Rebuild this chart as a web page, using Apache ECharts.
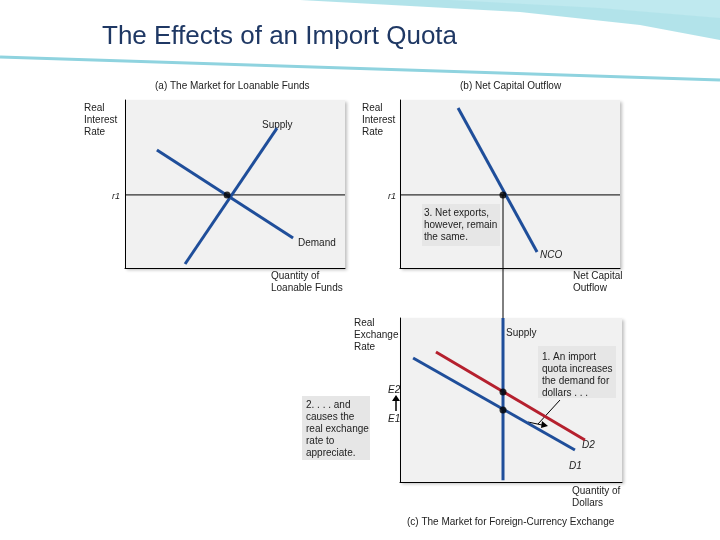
<!DOCTYPE html>
<html><head><meta charset="utf-8">
<script src="https://cdn.jsdelivr.net/npm/echarts@6/dist/echarts.min.js"></script>
<style>html,body{margin:0;padding:0;background:#fff}#c{width:720px;height:540px}</style>
</head><body><div id="c"></div>
<script>
// panel (a) data, unit coords 0-10
const supplyA = [[2.73,0.24],[6.91,8.33]];
const demandA = [[1.45,7.02],[7.64,1.79]];
const r1 = 4.35;
const eqA = [[4.64,4.35]];
// panel (b)
const nco = [[2.64,9.52],[6.23,0.95]];
const eqB = [[4.68,4.35]];
// panel (c)
const supplyC = [[4.64,0.1],[4.64,10]];
const d1 = [[0.59,7.56],[7.88,1.95]];
const d2 = [[1.62,7.93],[8.33,2.56]];
const eqC = [[4.64,5.49],[4.64,4.39]];

const chart = echarts.init(document.getElementById('c'));
const F = 'Liberation Sans, Arial, sans-serif';
const grids = [
  {left:125,top:100,width:220,height:168},
  {left:400,top:100,width:220,height:168},
  {left:400,top:318,width:222,height:164}
].map(g=>Object.assign(g,{show:true,backgroundColor:'#f1f1f1',borderWidth:0,shadowColor:'rgba(0,0,0,0.25)',shadowBlur:3,shadowOffsetX:2,shadowOffsetY:2}));
const ax = i=>({gridIndex:i,type:'value',min:0,max:10,axisLine:{show:true,lineStyle:{color:'#000',width:1}},axisTick:{show:false},axisLabel:{show:false},splitLine:{show:false}});
const line = (i,data,color,w)=>({type:'line',xAxisIndex:i,yAxisIndex:i,data,symbol:'none',lineStyle:{color,width:w||3},silent:true});
const dots = (i,data)=>({type:'scatter',xAxisIndex:i,yAxisIndex:i,data,symbolSize:7,itemStyle:{color:'#000'},z:5});
const t = (x,y,text,o)=>Object.assign({type:'text',left:x,top:y,style:Object.assign({text,font:'10px '+F,fill:'#222'},o||{})});
const blue='#1f4e9a', red='#b5202e';
chart.setOption({
  animation:false,
  grid:grids,
  xAxis:[ax(0),ax(1),ax(2)],
  yAxis:[ax(0),ax(1),ax(2)],
  series:[
    line(0,[[0,r1],[10,r1]],'#000',1),
    line(0,supplyA,blue), line(0,demandA,blue), dots(0,eqA),
    line(1,[[0,r1],[10,r1]],'#000',1),
    line(1,nco,blue), dots(1,eqB),
    line(2,d1,blue), line(2,d2,red), line(2,supplyC,blue), dots(2,eqC)
  ],
  graphic:[
    {type:'polygon',shape:{points:[[300,0],[720,0],[720,40],[640,25],[520,12]]},style:{fill:'#7fd0dc',opacity:0.6}},
    {type:'polygon',shape:{points:[[450,0],[720,0],[720,18],[600,8]]},style:{fill:'#bfe9ef'}},
    {type:'line',shape:{x1:0,y1:57,x2:720,y2:80},style:{stroke:'#8fd3df',lineWidth:3}},
    t(102,24,'The Effects of an Import Quota',{font:'26px '+F,fill:'#1f3864'}),
    t(155,81,'(a) The Market for Loanable Funds'),
    t(460,81,'(b) Net Capital Outflow'),
    t(84,102,'Real\nInterest\nRate',{align:'center',x:19,lineHeight:12}),
    t(362,102,'Real\nInterest\nRate',{align:'center',x:19,lineHeight:12}),
    t(262,120,'Supply'),
    t(298,238,'Demand'),
    t(112,192,'r1',{font:'italic 9px '+F}),
    t(388,192,'r1',{font:'italic 9px '+F}),
    t(540,250,'NCO',{font:'italic 10px '+F}),
    t(271,270,'Quantity of\nLoanable Funds',{lineHeight:12,align:'right',x:75}),
    t(573,270,'Net Capital\nOutflow',{lineHeight:12,align:'right',x:52}),
    {type:'rect',shape:{x:422,y:204,width:78,height:42},style:{fill:'#e6e6e6'}},
    t(424,207,'3. Net exports,\nhowever, remain\nthe same.',{lineHeight:12}),
    {type:'line',shape:{x1:503,y1:195,x2:503,y2:318},style:{stroke:'#000',lineWidth:1}},
    t(354,317,'Real\nExchange\nRate',{align:'center',x:24,lineHeight:12}),
    t(506,328,'Supply'),
    {type:'rect',shape:{x:538,y:346,width:78,height:52},style:{fill:'#e6e6e6'}},
    t(542,351,'1. An import\nquota increases\nthe demand for\ndollars . . .',{lineHeight:12}),
    {type:'rect',shape:{x:302,y:396,width:68,height:64},style:{fill:'#e6e6e6'}},
    t(306,399,'2. . . . and\ncauses the\nreal exchange\nrate to\nappreciate.',{lineHeight:12}),
    t(388,385,'E2',{font:'italic 10px '+F}),
    t(388,414,'E1',{font:'italic 10px '+F}),
    {type:'line',shape:{x1:396,y1:411,x2:396,y2:400},style:{stroke:'#000',lineWidth:1.5}},
    {type:'polygon',shape:{points:[[392,401],[400,401],[396,395]]},style:{fill:'#000'}},
    {type:'line',shape:{x1:560,y1:400,x2:538,y2:424},style:{stroke:'#000',lineWidth:1}},
    {type:'line',shape:{x1:528,y1:422,x2:542,y2:425},style:{stroke:'#000',lineWidth:1}},
    {type:'polygon',shape:{points:[[542,421],[548,426],[541,428]]},style:{fill:'#000'}},
    t(582,440,'D2',{font:'italic 10px '+F}),
    t(569,461,'D1',{font:'italic 10px '+F}),
    t(572,485,'Quantity of\nDollars',{lineHeight:12,align:'right',x:53}),
    t(407,517,'(c) The Market for Foreign-Currency Exchange')
  ]
});
</script></body></html>
